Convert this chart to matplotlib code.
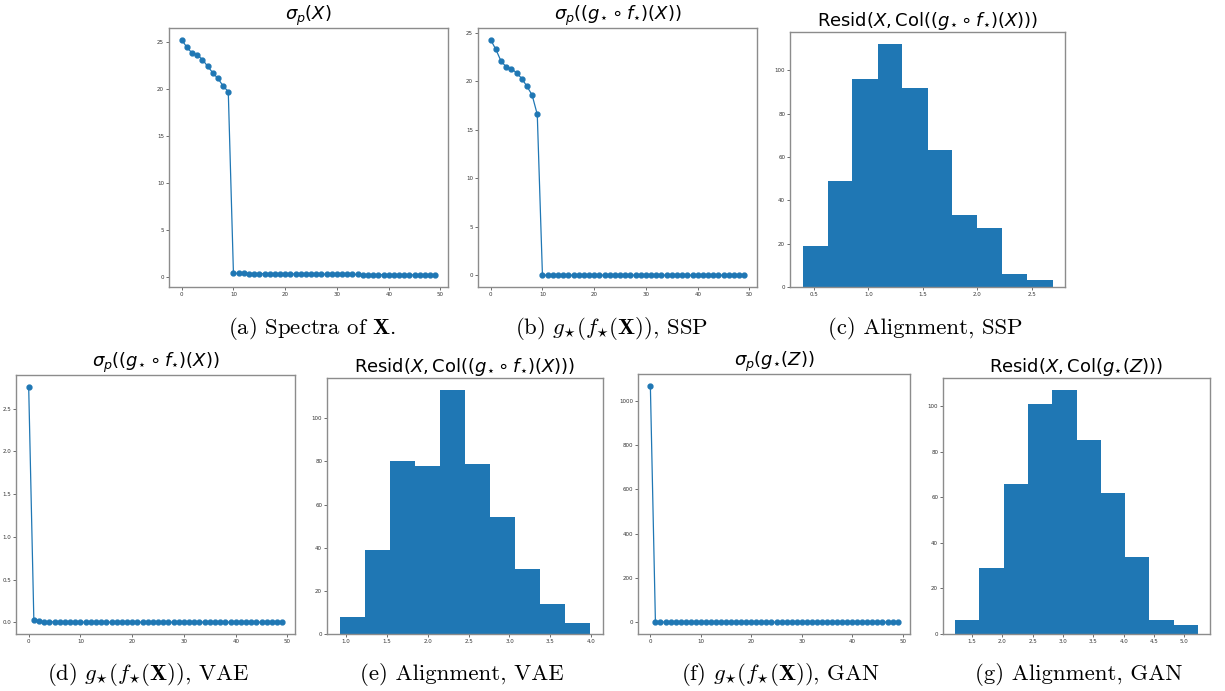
import numpy as np
import matplotlib
matplotlib.use("Agg")
import matplotlib.pyplot as plt

# ---------------- data ----------------
idx = list(range(50))

# (a) spectra of X
spec_x = [25.2, 24.4, 23.8, 23.6, 23.1, 22.4, 21.7, 21.1, 20.3, 19.7,
          0.42, 0.41, 0.41, 0.40, 0.40, 0.39, 0.38, 0.38, 0.37, 0.37,
          0.36, 0.36, 0.35, 0.35, 0.34, 0.34, 0.33, 0.33, 0.32, 0.32,
          0.31, 0.31, 0.30, 0.30, 0.30, 0.29, 0.29, 0.28, 0.28, 0.27,
          0.27, 0.26, 0.26, 0.25, 0.25, 0.25, 0.24, 0.24, 0.23, 0.22]

# (b) spectra of g(f(X)), SSP
spec_ssp = [24.3, 23.3, 22.1, 21.5, 21.3, 20.9, 20.3, 19.5, 18.6, 16.6] + [0.0] * 40

# (d) spectra VAE
spec_vae = [2.757, 0.023, 0.018, 0.006, 0.006, 0.006, 0.005, 0.003, 0.003, 0.002] + [0.002] * 40

# (f) spectra GAN
spec_gan = [1068.0, 3.0, 0.5, 0.3, 0.2, 0.2, 0.1, 0.1, 0.1, 0.1] + [0.05] * 40

# (c) alignment SSP histogram
edges_ssp = [0.396, 0.626, 0.855, 1.085, 1.314, 1.544, 1.773, 2.003, 2.232, 2.462, 2.692]
counts_ssp = [19, 49, 96, 112, 92, 63, 33, 27, 6, 3]

# (e) alignment VAE histogram
edges_vae = [0.922, 1.229, 1.536, 1.842, 2.149, 2.456, 2.763, 3.070, 3.376, 3.683, 3.990]
counts_vae = [8, 39, 80, 78, 113, 79, 54, 30, 14, 5]

# (g) alignment GAN histogram
edges_gan = [1.224, 1.624, 2.024, 2.424, 2.824, 3.224, 3.623, 4.023, 4.423, 4.823, 5.223]
counts_gan = [6, 29, 66, 101, 107, 85, 62, 34, 6, 4]

titles = {
    "a": r"$\sigma_p(X)$",
    "b": r"$\sigma_p((g_{\star}\circ f_{\star})(X))$",
    "c": r"$\mathrm{Resid}(X,\mathrm{Col}((g_{\star}\circ f_{\star})(X)))$",
    "d": r"$\sigma_p((g_{\star}\circ f_{\star})(X))$",
    "e": r"$\mathrm{Resid}(X,\mathrm{Col}((g_{\star}\circ f_{\star})(X)))$",
    "f": r"$\sigma_p(g_{\star}(Z))$",
    "g": r"$\mathrm{Resid}(X,\mathrm{Col}(g_{\star}(Z)))$",
}
captions = {
    "a": r"(a) Spectra of $\mathbf{X}$.",
    "b": r"(b) $g_{\star}(f_{\star}(\mathbf{X}))$, SSP",
    "c": r"(c) Alignment, SSP",
    "d": r"(d) $g_{\star}(f_{\star}(\mathbf{X}))$, VAE",
    "e": r"(e) Alignment, VAE",
    "f": r"(f) $g_{\star}(f_{\star}(\mathbf{X}))$, GAN",
    "g": r"(g) Alignment, GAN",
}

# ---------------- layout ----------------
W, H = 1225, 691
fig = plt.figure(figsize=(W / 100, H / 100), dpi=100)
plt.rcParams["mathtext.fontset"] = "dejavusans"

boxes = {
    "a": (169, 28, 448, 287),
    "b": (478, 28, 757, 287),
    "c": (790, 32, 1065, 287),
    "d": (16, 375, 295, 634),
    "e": (327, 378, 603, 634),
    "f": (638, 374, 910, 634),
    "g": (943, 378, 1210, 634),
}
cap_pos = {
    "a": (312, 329), "b": (612, 329), "c": (925, 329),
    "d": (148, 675), "e": (462, 675), "f": (781, 675), "g": (1079, 675),
}

blue = "#1f77b4"


def make_ax(key):
    L, T, R, B = boxes[key]
    ax = fig.add_axes([L / W, 1 - B / H, (R - L) / W, (B - T) / H])
    for s in ax.spines.values():
        s.set_edgecolor("#8c8c8c")
        s.set_linewidth(1.0)
    ax.tick_params(labelsize=4, length=2, width=0.5, pad=1.5, colors="#333333")
    ax.set_title(titles[key], fontsize=13, pad=4)
    return ax


for key, vals in [("a", spec_x), ("b", spec_ssp), ("d", spec_vae), ("f", spec_gan)]:
    ax = make_ax(key)
    ax.plot(idx, vals, "-o", color=blue, lw=0.9, markersize=3.5)

for key, edges, counts in [("c", edges_ssp, counts_ssp), ("e", edges_vae, counts_vae),
                           ("g", edges_gan, counts_gan)]:
    ax = make_ax(key)
    e = np.array(edges)
    ax.bar(e[:-1], counts, width=np.diff(e), align="edge", color=blue,
           linewidth=0)

for key, (x, y) in cap_pos.items():
    fig.text(x / W, 1 - y / H, captions[key], ha="center", va="center",
             fontsize=16.4, family="cmr10", math_fontfamily="cm")

fig.savefig("out.png", dpi=100)
